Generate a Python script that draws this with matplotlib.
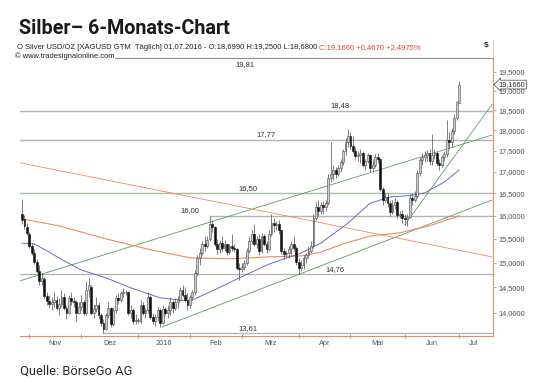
import numpy as np
import pandas as pd
import matplotlib
matplotlib.use('Agg')
import matplotlib.pyplot as plt
import matplotlib.transforms as mtransforms
from matplotlib.ticker import FixedLocator, NullLocator, FuncFormatter, NullFormatter
from matplotlib.lines import Line2D

plt.rcParams['font.family'] = ['Liberation Sans', 'DejaVu Sans']

# Daily XAGUSD bars, 28.10.2015 - 01.07.2016 (weekdays)
dates = pd.bdate_range('2015-10-28', '2016-07-01')

opens = [
    16.05, 15.92, 15.75,  # Oct
    15.60, 15.35, 15.20, 15.02, 14.82, 14.62, 14.66, 14.32, 14.22, 14.18, 14.20,
    14.25, 14.10, 14.18, 14.30, 14.10, 14.00, 14.28, 14.22, 14.20, 14.00,  # Nov
    14.12, 14.20, 14.00, 14.45, 14.50, 14.00, 14.08, 14.15, 13.95, 13.80, 13.70,
    13.95, 14.10, 13.78, 14.05, 14.28, 14.25, 14.38, 14.40, 14.40, 14.00, 14.05, 13.85,  # Dec
    13.85, 13.85, 14.15, 14.00, 14.05, 14.30, 13.92, 13.85, 13.92, 14.05, 13.80,
    14.08, 14.00, 14.05, 14.20, 14.10, 14.20, 14.25, 14.45, 14.35, 14.25,  # Jan
    14.15, 14.30, 14.40, 14.78, 15.10, 15.20, 15.40, 15.35, 15.50, 15.82, 15.75,
    15.40, 15.28, 15.42, 15.30, 15.38, 15.22, 15.35, 15.30, 15.28, 14.90,  # Feb
    14.88, 14.92, 15.00, 15.25, 15.45, 15.60, 15.40, 15.50, 15.25, 15.55, 15.40, 15.28,
    15.60, 15.85, 15.80, 15.82, 15.68, 15.25, 15.18, 15.20, 15.28, 15.38, 15.30,  # Mar
    15.02, 14.90, 14.95, 15.10, 15.15, 15.25, 15.35, 15.95, 16.20, 16.10, 16.25,
    16.20, 16.28, 16.85, 16.95, 17.05, 16.95, 17.08, 17.22, 17.50, 17.70,  # Apr
    17.85, 17.62, 17.50, 17.38, 17.40, 17.45, 17.15, 17.25, 17.40, 17.08, 17.15,
    17.35, 17.30, 16.60, 16.35, 16.42, 16.28, 16.08, 16.25, 16.30, 16.02, 16.05,  # May
    15.95, 15.92, 15.98, 16.40, 16.35, 16.45, 16.98, 17.28, 17.35, 17.40, 17.45,
    17.25, 17.40, 17.45, 17.20, 17.15, 17.35, 17.42, 17.75, 17.70, 17.98, 18.30,  # Jun
    18.699,  # Jul
]
highs = [
    16.38, 16.02, 15.85,
    15.65, 15.42, 15.28, 15.08, 14.95, 14.78, 14.70, 14.40, 14.35, 14.30, 14.40,
    14.32, 14.28, 14.45, 14.38, 14.15, 14.35, 14.40, 14.30, 14.25, 14.20,
    14.35, 14.25, 14.62, 14.68, 14.55, 14.18, 14.30, 14.20, 14.00, 13.88, 14.00,
    14.20, 14.12, 14.12, 14.35, 14.38, 14.42, 14.48, 14.45, 14.42, 14.15, 14.10, 13.98,
    13.90, 14.25, 14.20, 14.10, 14.40, 14.35, 14.00, 13.98, 14.12, 14.10, 14.15,
    14.12, 14.15, 14.30, 14.25, 14.28, 14.32, 14.50, 14.55, 14.50, 14.38,
    14.35, 14.45, 14.85, 15.15, 15.30, 15.45, 15.55, 15.55, 16.00, 15.90, 15.78,
    15.50, 15.48, 15.55, 15.48, 15.42, 15.40, 15.60, 15.38, 15.30, 15.00,
    15.00, 15.05, 15.30, 15.55, 15.70, 15.82, 15.55, 15.60, 15.62, 15.60, 15.45, 15.70,
    16.05, 15.95, 15.88, 15.90, 15.70, 15.30, 15.25, 15.35, 15.45, 15.55, 15.35,
    15.10, 15.05, 15.15, 15.20, 15.35, 15.45, 16.05, 16.30, 16.35, 16.30,
    16.32, 16.35, 16.95, 17.72, 17.15, 17.10, 17.15, 17.30, 17.55, 17.80, 18.02,
    17.95, 17.85, 17.60, 17.48, 17.55, 17.50, 17.30, 17.45, 17.42, 17.30,
    17.42, 17.45, 17.32, 16.65, 16.50, 16.50, 16.35, 16.35, 16.40, 16.35, 16.10, 16.12,
    16.05, 16.05, 16.48, 16.50, 16.55, 17.05, 17.35, 17.45, 17.50, 17.52, 17.55,
    17.90, 17.55, 17.50, 17.30, 17.40, 17.50, 18.25, 17.95, 18.05, 18.40, 18.75,
    19.25,
]
lows = [
    15.82, 15.72, 15.58,
    15.30, 15.15, 14.98, 14.78, 14.55, 14.55, 14.28, 14.15, 14.10, 14.05, 14.12,
    14.05, 13.95, 14.12, 14.05, 13.88, 13.98, 14.15, 14.12, 13.85, 13.98,
    14.05, 13.95, 13.95, 14.30, 13.95, 13.90, 14.02, 13.88, 13.75, 13.61, 13.68,
    13.90, 13.72, 13.75, 14.00, 14.18, 14.20, 14.30, 14.35, 13.95, 13.90, 13.78, 13.78,
    13.80, 13.80, 13.95, 13.90, 14.00, 13.88, 13.78, 13.75, 13.85, 13.73, 13.78,
    13.95, 13.90, 13.95, 14.00, 14.05, 14.10, 14.22, 14.30, 14.20, 14.05,
    14.10, 14.25, 14.35, 14.75, 14.95, 15.15, 15.25, 15.30, 15.45, 15.65, 15.35,
    15.18, 15.20, 15.25, 15.25, 15.15, 15.18, 15.25, 15.22, 14.85, 14.65,
    14.80, 14.85, 14.95, 15.20, 15.40, 15.35, 15.30, 15.15, 15.20, 15.35, 15.20, 15.25,
    15.55, 15.65, 15.70, 15.60, 15.18, 15.08, 15.12, 15.10, 15.15, 15.25, 14.95,
    14.76, 14.82, 14.88, 15.00, 15.10, 15.20, 15.30, 15.90, 16.00, 16.05,
    16.05, 16.10, 16.25, 16.75, 16.80, 16.85, 16.90, 17.00, 17.15, 17.40, 17.60,
    17.55, 17.45, 17.30, 17.25, 17.20, 17.10, 17.05, 17.20, 17.00, 17.00,
    17.10, 17.20, 16.55, 16.25, 16.30, 16.20, 16.00, 16.05, 16.15, 15.95, 15.95, 15.85,
    15.80, 15.78, 15.95, 16.25, 16.30, 16.40, 16.90, 17.15, 17.22, 17.25, 17.15,
    17.15, 17.30, 17.15, 17.05, 17.10, 17.25, 17.35, 17.55, 17.60, 17.90, 18.25,
    18.68,
]
closes = [
    15.90, 15.78, 15.62,
    15.35, 15.20, 15.02, 14.82, 14.62, 14.68, 14.32, 14.22, 14.18, 14.20, 14.25,
    14.10, 14.18, 14.30, 14.10, 14.00, 14.28, 14.22, 14.20, 14.00, 14.12,
    14.20, 14.00, 14.45, 14.55, 14.00, 14.08, 14.15, 13.95, 13.80, 13.70, 13.95,
    14.10, 13.78, 14.05, 14.28, 14.25, 14.38, 14.40, 14.40, 14.00, 14.05, 13.85, 13.85,
    13.85, 14.15, 14.00, 14.05, 14.30, 13.92, 13.85, 13.92, 14.05, 13.80, 14.08,
    14.00, 14.05, 14.20, 14.10, 14.20, 14.25, 14.45, 14.35, 14.25, 14.15,
    14.30, 14.40, 14.78, 15.10, 15.20, 15.40, 15.35, 15.48, 15.82, 15.75, 15.40,
    15.28, 15.42, 15.30, 15.38, 15.22, 15.35, 15.30, 15.28, 14.90, 14.88,
    14.92, 15.00, 15.25, 15.45, 15.60, 15.40, 15.50, 15.25, 15.55, 15.40, 15.28, 15.60,
    15.85, 15.80, 15.82, 15.68, 15.25, 15.18, 15.20, 15.28, 15.38, 15.30, 15.02,
    14.90, 14.95, 15.10, 15.15, 15.25, 15.35, 15.95, 16.20, 16.10, 16.25,
    16.20, 16.28, 16.85, 16.95, 17.05, 16.95, 17.08, 17.22, 17.50, 17.70, 17.85,
    17.62, 17.50, 17.38, 17.40, 17.45, 17.15, 17.25, 17.40, 17.08, 17.15,
    17.35, 17.30, 16.60, 16.35, 16.42, 16.28, 16.08, 16.25, 16.30, 16.02, 16.05, 15.95,
    15.92, 15.98, 16.40, 16.35, 16.45, 16.98, 17.28, 17.35, 17.40, 17.45, 17.25,
    17.40, 17.45, 17.20, 17.15, 17.35, 17.42, 17.75, 17.70, 17.98, 18.30, 18.70,
    19.166,
]

# moving averages (bar index, value)
ma_blue_idx = [0, 5, 11, 17, 24, 34, 44, 56, 68, 78, 88, 100, 113, 121, 132, 141, 149, 157, 163, 171, 177]
ma_blue_val = [15.41, 15.39, 15.22, 15.04, 14.85, 14.69, 14.49, 14.29, 14.23, 14.45, 14.69,
               14.97, 15.20, 15.41, 15.84, 16.28, 16.42, 16.45, 16.51, 16.76, 17.04]
ma_orange_idx = [0, 15, 34, 52, 68, 84, 100, 113, 121, 131, 141, 153, 165, 177]
ma_orange_val = [15.93, 15.78, 15.50, 15.27, 15.10, 15.08, 15.12, 15.14, 15.22, 15.41,
                 15.56, 15.63, 15.78, 16.00]

# horizontal support / resistance levels
levels = [18.48, 17.77, 16.50, 16.00, 14.76, 13.61]
level_labels = ['18,48', '17,77', '16,50', '16,00', '14,76', '13,61']
level_start = [-1, -1, -1, 76, -1, 33]
level_label_at = [128.7, 99.0, 91.5, 68.0, 126.7, 91.5]

# trend lines: (bar start, bar end), (price start, price end)
trend_green_up = ([-0.8, 190.3], [14.63, 17.88])
trend_green_low = ([56.7, 190.3], [13.73, 16.35])
trend_green_steep = ([155.0, 190.3], [15.80, 18.65])
trend_orange_down = ([-0.8, 190.3], [17.21, 15.12])

month_names = ['Nov', 'Dez', '2016', 'Feb', 'Mrz', 'Apr', 'Mai', 'Jun', 'Jul']
yticks = [14.0, 14.5, 15.0, 15.5, 16.0, 16.5, 17.0, 17.5, 18.0, 18.5, 19.0, 19.5]

ORANGE = '#f08a5d'
GREY = '#b4b4b4'
GREEN = '#5e9e5e'
BLUE = '#6d6dbd'

fig = plt.figure(figsize=(5.4, 3.9), dpi=100)
ax = fig.add_axes([20 / 540, 1 - 336 / 390, 473 / 540, 278 / 390])
ax.set_yscale('log')
ax.set_xlim(-0.8, 190.7)
ax.set_ylim(13.56, 19.88)

o = np.array(opens); h = np.array(highs); l = np.array(lows); c = np.array(closes)
x = np.arange(len(c))

# horizontal levels
for val, lab, start, lx in zip(levels, level_labels, level_start, level_label_at):
    col = '#a3bea3' if lab == '16,50' else GREY
    ax.plot([start, 191], [val, val], color=col, lw=1.0, zorder=1)
    ax.annotate(lab, (lx, val), xytext=(0, 1.2), textcoords='offset points',
                ha='center', va='bottom', fontsize=5.5, color='#303030')
ax.text(90.3, 19.69, '19,81', ha='center', va='center', fontsize=5.5, color='#303030')

# trend lines
for (tx, ty), col in [(trend_green_up, GREEN), (trend_green_low, GREEN),
                      (trend_green_steep, GREEN), (trend_orange_down, ORANGE)]:
    ax.plot(tx, ty, color=col, lw=0.6, zorder=2)

# moving averages
ax.plot(ma_orange_idx, ma_orange_val, color=ORANGE, lw=0.8, zorder=2)
ax.plot(ma_blue_idx, ma_blue_val, color=BLUE, lw=0.7, zorder=2)

# candles
up = c >= o
body_lo = np.minimum(o, c)
body_h = np.maximum(np.abs(c - o), 0.005)
ax.vlines(x, l, h, color='#4a4a4a', lw=0.5, zorder=3)
ax.bar(x[up], body_h[up], bottom=body_lo[up], width=0.75, color='#cfcfcf',
       edgecolor='#4a4a4a', linewidth=0.4, zorder=4)
ax.bar(x[~up], body_h[~up], bottom=body_lo[~up], width=0.75, color='#111111',
       edgecolor='#111111', linewidth=0.4, zorder=4)

# axes styling
ax.spines['left'].set_visible(False)
ax.spines['top'].set_color('#909090')
ax.spines['top'].set_linewidth(0.8)
ax.spines['right'].set_color(ORANGE)
ax.spines['bottom'].set_color(ORANGE)
ax.spines['right'].set_linewidth(0.8)
ax.spines['bottom'].set_linewidth(0.8)

ax.yaxis.tick_right()
ax.yaxis.set_major_locator(FixedLocator(yticks))
ax.yaxis.set_minor_locator(NullLocator())
ax.yaxis.set_minor_formatter(NullFormatter())
ax.yaxis.set_major_formatter(FuncFormatter(lambda v, _: f'{v:.4f}'.replace('.', ',')))
ax.tick_params(axis='y', which='major', labelsize=5.3, labelcolor='#505050',
               color=ORANGE, length=2, width=0.6, pad=2)

month_start = [i for i in range(1, len(dates)) if dates[i].month != dates[i - 1].month]
month_mid = [(a + b) / 2 for a, b in zip(month_start[:-1], month_start[1:])]
month_mid.append(month_start[-1] + 6)
ax.xaxis.set_major_locator(FixedLocator(month_start))
ax.xaxis.set_major_formatter(NullFormatter())
ax.xaxis.set_minor_locator(FixedLocator(month_mid))
ax.xaxis.set_minor_formatter(FuncFormatter(lambda v, i: month_names[i] if i < len(month_names) else ''))
ax.tick_params(axis='x', which='major', length=2.5, width=0.6, color='#909090', direction='inout')
ax.tick_params(axis='x', which='minor', length=0, labelsize=5.3, labelcolor='#505050', pad=3)

# current price tag
trans = mtransforms.blended_transform_factory(ax.transAxes, ax.transData)
ax.text(1.012, closes[-1], '19,1660', transform=trans, ha='left', va='center',
        fontsize=5.3, color='#202020', zorder=6, clip_on=False,
        bbox=dict(boxstyle='larrow,pad=0.12', fc='white', ec='#404040', lw=0.5))

# header / footer
fig.text(19 / 540, 1 - 29 / 390, 'Silber\u2013 6-Monats-Chart', fontsize=14.2, fontweight='bold',
         family=['Roboto', 'DejaVu Sans'], color='#1a1a1a', va='center')
t1 = fig.text(17 / 540, 1 - 47 / 390,
              '\u022e Silver USD/OZ [XAGUSD GTM  T\u00e4glich] 01.07.2016 - O:18,6990 H:19,2500 L:18,6800 ',
              fontsize=5.5, color='#202020', va='center')
ax.annotate('C:19,1660 +0,4670 +2,4975%', xy=(1, 0), xycoords=t1, va='bottom', ha='left',
            fontsize=5.5, color='#e0452a', annotation_clip=False)
fig.text(15 / 540, 1 - 56 / 390, '\u00a9 www.tradesignalonline.com', fontsize=5.4, color='#202020',
         va='center', bbox=dict(fc='white', ec='none', pad=0.6))
fig.text(484 / 540, 1 - 46 / 390, '$', fontsize=6, fontweight='bold', color='#303030', va='center')
fig.add_artist(Line2D([493 / 540, 493 / 540], [1 - 58 / 390, 1 - 40 / 390], transform=fig.transFigure,
                      color=ORANGE, lw=0.7, ls=(0, (1, 1))))
fig.text(20 / 540, 1 - 371 / 390, 'Quelle: B\u00f6rseGo AG', fontsize=9.3,
         family=['Roboto', 'DejaVu Sans'], color='#2a2a2a', va='center')

fig.savefig('out.png', dpi=100)
